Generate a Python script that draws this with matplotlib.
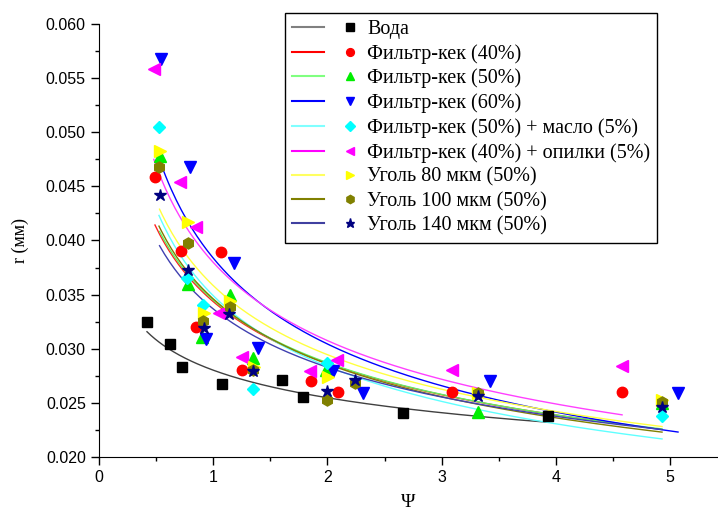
import numpy as np
import matplotlib.pyplot as plt
from matplotlib.lines import Line2D
from matplotlib.legend_handler import HandlerTuple
from matplotlib.ticker import MultipleLocator

# ------------------------------
# Данные: r (мм) в зависимости от Ψ
# ------------------------------

voda_x = [0.42, 0.62, 0.73, 1.08, 1.60, 1.79, 2.66, 3.93]
voda_y = [0.0325, 0.0304, 0.0283, 0.0267, 0.0271, 0.0255, 0.0241, 0.0238]

fk40_x = [0.49, 0.72, 0.85, 1.065, 1.255, 1.86, 2.09, 3.09, 4.58]
fk40_y = [0.0459, 0.0390, 0.0320, 0.0389, 0.0280, 0.0270, 0.0260, 0.0260, 0.0260]

fk50_x = [0.53, 0.775, 0.90, 1.15, 1.345, 1.99, 3.32, 4.93]
fk50_y = [0.0478, 0.0360, 0.0311, 0.0350, 0.0291, 0.0280, 0.0242, 0.0250]

fk60_x = [0.54, 0.80, 0.94, 1.18, 1.39, 2.05, 2.31, 3.42, 5.07]
fk60_y = [0.0568, 0.0468, 0.0309, 0.0379, 0.0301, 0.0279, 0.0259, 0.0270, 0.0259]

fk50_maslo_x = [0.525, 0.77, 0.91, 1.345, 2.00, 4.93]
fk50_maslo_y = [0.0505, 0.0365, 0.0340, 0.0263, 0.0287, 0.0238]

fk40_opilki_x = [0.48, 0.71, 0.85, 1.05, 1.25, 1.85, 2.08, 3.09, 4.58]
fk40_opilki_y = [0.0558, 0.0454, 0.0412, 0.0333, 0.0292, 0.0279, 0.0290, 0.0280, 0.0284]

ugol80_x = [0.53, 0.78, 0.92, 1.15, 1.36, 2.005, 3.32, 4.93]
ugol80_y = [0.0483, 0.0417, 0.0333, 0.0344, 0.0283, 0.0274, 0.0259, 0.0253]

ugol100_x = [0.525, 0.78, 0.91, 1.145, 1.345, 1.995, 2.24, 3.32, 4.93]
ugol100_y = [0.0468, 0.0398, 0.0326, 0.0339, 0.0280, 0.0253, 0.0268, 0.0259, 0.0251]

ugol140_x = [0.53, 0.775, 0.92, 1.14, 1.345, 1.995, 2.24, 3.32, 4.93]
ugol140_y = [0.0442, 0.0373, 0.0319, 0.0332, 0.0279, 0.0261, 0.0271, 0.0256, 0.0246]

nazvaniya = ['Вода', 'Фильтр-кек (40%)', 'Фильтр-кек (50%)', 'Фильтр-кек (60%)',
             'Фильтр-кек (50%) + масло (5%)', 'Фильтр-кек (40%) + опилки (5%)',
             'Уголь 80 мкм (50%)', 'Уголь 100 мкм (50%)', 'Уголь 140 мкм (50%)']

serii = [(voda_x, voda_y), (fk40_x, fk40_y), (fk50_x, fk50_y), (fk60_x, fk60_y),
         (fk50_maslo_x, fk50_maslo_y), (fk40_opilki_x, fk40_opilki_y),
         (ugol80_x, ugol80_y), (ugol100_x, ugol100_y), (ugol140_x, ugol140_y)]

# стиль: цвет точек, цвет кривой, маркер, размер
stili = [('black', '#404040', 's', 7),
         ('red', '#ff2020', 'o', 7.5),
         ('#00ee00', '#60f060', '^', 8),
         ('blue', '#0000ff', 'v', 8),
         ('cyan', '#60ffff', 'D', 6.5),
         ('magenta', '#ff40ff', '<', 8),
         ('yellow', '#ffff40', '>', 8),
         ('#808000', '#808000', 'h', 8),
         ('#000080', '#4040b0', '*', 9)]
leg_lines = ['#808080', '#ff0000', '#80ff80', '#0000ff', '#80ffff',
             '#ff00ff', '#ffff60', '#808000', '#4040a0']

# ------------------------------
# Построение
# ------------------------------

fig = plt.figure(figsize=(7.18, 5.13), dpi=100)
ax = fig.add_axes([0.1379, 0.1092, 0.8621, 0.8441])

handles = []
for (x, y), (mc, lc, mk, ms), llc in zip(serii, stili, leg_lines):
    x = np.array(x)
    y = np.array(y)
    # степенная аппроксимация y = a * x^b
    b, lna = np.polyfit(np.log(x), np.log(y), 1)
    xf = np.linspace(x.min(), x.max(), 200)
    ax.plot(xf, np.exp(lna) * xf ** b, color=lc, lw=1, zorder=2)
    ax.plot(x, y, linestyle='none', marker=mk, ms=ms, color=mc,
            markeredgecolor=mc, zorder=3)
    handles.append((Line2D([], [], color=llc, lw=1.5),
                    Line2D([], [], linestyle='none', marker=mk, ms=ms * 0.75,
                           color=mc)))

ax.set_xlim(0, 5.42)
ax.set_ylim(0.020, 0.060)
ax.spines['top'].set_visible(False)
ax.spines['right'].set_visible(False)
ax.xaxis.set_major_locator(MultipleLocator(1))
ax.xaxis.set_minor_locator(MultipleLocator(0.5))
ax.yaxis.set_major_locator(MultipleLocator(0.005))
ax.yaxis.set_minor_locator(MultipleLocator(0.0025))
ax.yaxis.set_major_formatter(plt.FormatStrFormatter('%.3f'))
ax.tick_params(which='major', length=6, width=1, labelsize=11.5)
ax.tick_params(which='minor', length=3, width=1)
for lab in ax.get_xticklabels() + ax.get_yticklabels():
    lab.set_family('Liberation Sans')

ax.set_xlabel('Ψ', family='Liberation Serif', fontsize=14, labelpad=6)
ax.set_ylabel('r (мм)', family='Liberation Serif', fontsize=13, labelpad=12)

leg = ax.legend(handles, nazvaniya, handler_map={tuple: HandlerTuple(ndivide=None, pad=0.5)},
                loc='upper left', bbox_to_anchor=(0.30, 1.026), handlelength=3.7,
                prop={'family': 'Liberation Serif', 'size': 14.5}, fancybox=False,
                edgecolor='black', framealpha=1, borderaxespad=0, labelspacing=0.25,
                handletextpad=0.05, borderpad=0.35)
leg.get_frame().set_linewidth(1)
leg.set_zorder(5)

fig.savefig('out.png', dpi=100)
